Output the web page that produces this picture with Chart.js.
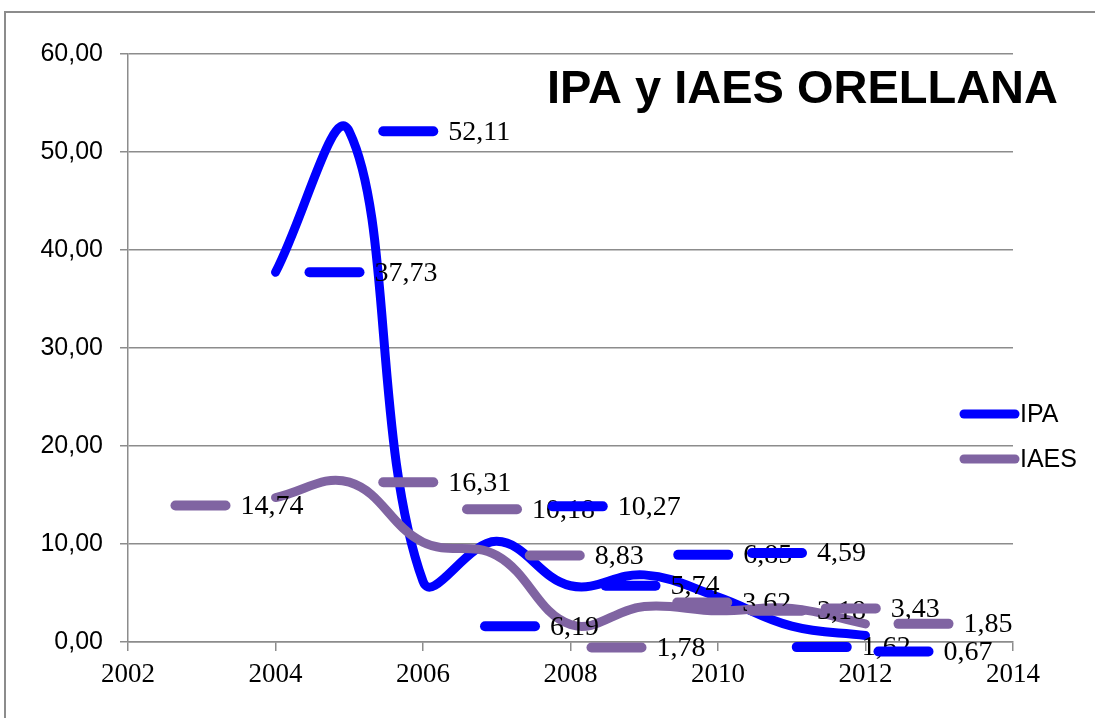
<!DOCTYPE html>
<html>
<head>
<meta charset="utf-8">
<script src="https://cdn.jsdelivr.net/npm/chart.js@4.4.1/dist/chart.umd.min.js"></script>
<style>
html,body{margin:0;padding:0;background:#fff;}
#wrap{width:1095px;height:718px;position:relative;}
</style>
</head>
<body>
<div id="wrap"><canvas id="c" width="1095" height="718"></canvas></div>
<script>
'use strict';
const years=[2004,2005,2006,2007,2008,2009,2010,2011,2012];
const ipa=[37.73,52.11,6.19,10.27,5.74,6.85,4.59,1.62,0.67];
const iaes=[14.74,16.31,10.18,8.83,1.78,3.62,3.18,3.43,1.85];
const xTicks=[2002,2004,2006,2008,2010,2012,2014];
const yTicks=[0,10,20,30,40,50,60];
const title='IPA y IAES ORELLANA';
// desplazamiento (px) de cada etiqueta respecto a su punto, como en el original
const ipaNudge=[[29,0],[29,0],[57,45],[51,-35],[30,0],[29,-20],[29,-44],[0,21],[8,16]];
const iaesNudge=[[-105,8],[29,0],[39,-33],[28,0],[16,23],[28,-4],[29,0],[29,0],[28,0]];

const BLUE='#0000ff', PURPLE='#8064a2', GRID='#8c8c8c';
const fmt=v=>v.toFixed(2).replace('.',',');

const frame={id:'frame',beforeDraw(ch){
  const c=ch.ctx; c.save(); c.strokeStyle=GRID; c.lineWidth=2;
  c.beginPath(); c.moveTo(5,730); c.lineTo(5,12); c.lineTo(1100,12); c.stroke(); c.restore();
}};
const labels={id:'labels',afterDatasetsDraw(ch){
  const c=ch.ctx, xs=ch.scales.x, ys=ch.scales.y;
  const sets=[[iaes,iaesNudge,PURPLE],[ipa,ipaNudge,BLUE]];
  c.save();
  sets.forEach(([vals,nud,col])=>{
    vals.forEach((v,i)=>{
      const px=xs.getPixelForValue(years[i])+nud[i][0], py=ys.getPixelForValue(v)+nud[i][1];
      c.strokeStyle=col; c.lineWidth=10; c.lineCap='round';
      c.beginPath(); c.moveTo(px+5,py); c.lineTo(px+55,py); c.stroke();
      c.fillStyle='#000'; c.font='28px "Liberation Serif"'; c.textBaseline='middle'; c.textAlign='left';
      c.fillText(fmt(v),px+70,py+1);
    });
  });
  // titulo
  c.font='bold 47px "Liberation Sans"'; c.textAlign='right'; c.textBaseline='alphabetic'; c.fillStyle='#000';
  c.fillText(title,1058,103);
  // leyenda
  [['IPA',BLUE,414],['IAES',PURPLE,459]].forEach(([t,col,y])=>{
    c.strokeStyle=col; c.lineWidth=9; c.lineCap='round';
    c.beginPath(); c.moveTo(964,y); c.lineTo(1015,y); c.stroke();
    c.fillStyle='#000'; c.font='25px "Liberation Sans"'; c.textAlign='left'; c.textBaseline='middle';
    c.fillText(t,1020,y+1);
  });
  c.restore();
}};

new Chart(document.getElementById('c'),{
  type:'scatter',
  data:{datasets:[
    {label:'IPA',data:years.map((x,i)=>({x,y:ipa[i]})),showLine:true,borderColor:BLUE,borderWidth:9,pointRadius:0,tension:0.4,borderCapStyle:'round',borderJoinStyle:'round',order:1},
    {label:'IAES',data:years.map((x,i)=>({x,y:iaes[i]})),showLine:true,borderColor:PURPLE,borderWidth:9,pointRadius:0,tension:0.4,borderCapStyle:'round',borderJoinStyle:'round',order:0}
  ]},
  options:{responsive:false,animation:false,devicePixelRatio:1,
    layout:{padding:{top:54,right:82,left:0,bottom:0}},
    plugins:{legend:{display:false},tooltip:{enabled:false}},
    scales:{
      x:{type:'linear',min:2002,max:2014,
        afterBuildTicks:s=>{s.ticks=xTicks.map(v=>({value:v}));},
        afterFit:s=>{s.height=76;},
        grid:{drawOnChartArea:false,drawTicks:true,tickLength:9,color:GRID,lineWidth:1.5},
        border:{color:GRID,width:1.5},
        ticks:{color:'#000',font:{family:'Liberation Serif',size:27},padding:8,callback:v=>String(v),maxRotation:0}},
      y:{min:0,max:60,
        afterBuildTicks:s=>{s.ticks=yTicks.map(v=>({value:v}));},
        afterFit:s=>{s.width=128;},
        grid:{color:GRID,lineWidth:1.5,tickLength:8},
        border:{color:GRID,width:1.5},
        ticks:{color:'#000',font:{family:'Liberation Sans',size:25},padding:17,callback:v=>fmt(v)}}
    }},
  plugins:[frame,labels]
});
</script>
</body>
</html>
